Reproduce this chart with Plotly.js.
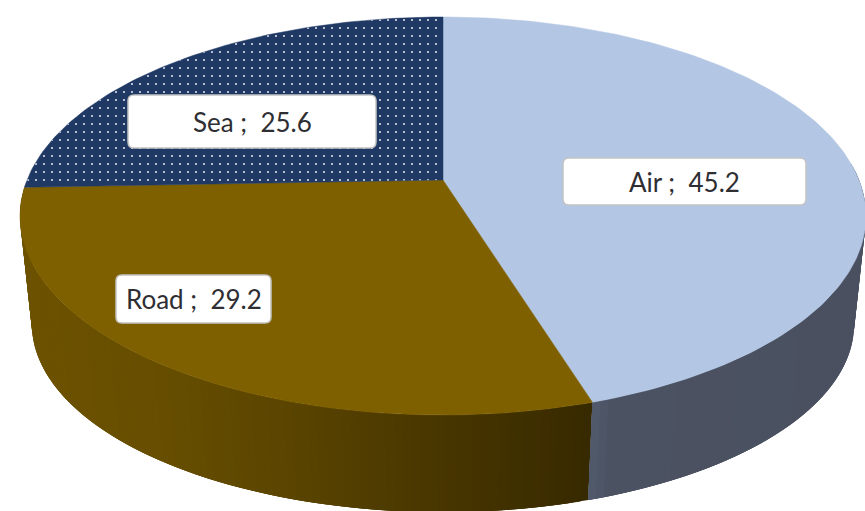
<!DOCTYPE html>
<html>
<head>
<meta charset="utf-8">
<script src="https://cdn.plot.ly/plotly-3.0.1.min.js"></script>
<style>html,body{margin:0;padding:0;background:#fff}#chart{width:865px;height:511px}</style>
</head>
<body>
<div id="chart"></div>
<script>
// Transport mode shares, clockwise from twelve o'clock
const modes = ['Air', 'Road', 'Sea'];
const shares = [45.2, 29.2, 25.6];
const topColors = ['#B3C6E4', '#7F6000', '#1F3864'];

// Rounded label plates: [left, top, right, bottom]
const plates = [[563, 158, 806, 205], [116, 275, 271, 323], [128, 95, 376, 148]];

// Side wall shading stops: [x, r, g, b]
const wallStops = {
  Air: [[590, 82, 92, 110], [612, 75, 82, 98], [865, 74, 80, 96]],
  Road: [[20, 108, 82, 0], [150, 103, 78, 0], [290, 90, 68, 0], [440, 72, 54, 0], [590, 56, 42, 0]]
};

// Perspective disc: the far edge recedes through the divisor w
const cx = 443, cy = 180, K = 0.181, R = 416, S = 192.5;
const rad = d => d * Math.PI / 180;
const topPt = d => {
  const w = 1 + K * Math.cos(rad(d));
  return [cx + R * Math.sin(rad(d)) / w, cy - S * Math.cos(rad(d)) / w];
};
const basePt = d => {
  const w = 1 + K * Math.cos(rad(d));
  return [cx + 0.972 * R * Math.sin(rad(d)) / w, 290 - 182 * Math.cos(rad(d)) / w];
};
const wallColor = (stops, x) => {
  if (x <= stops[0][0]) return `rgb(${stops[0].slice(1).join(',')})`;
  for (let i = 1; i < stops.length; i++) {
    if (x <= stops[i][0]) {
      const a = stops[i - 1], b = stops[i], t = (x - a[0]) / (b[0] - a[0]);
      return `rgb(${[1, 2, 3].map(j => Math.round(a[j] + (b[j] - a[j]) * t)).join(',')})`;
    }
  }
  return `rgb(${stops[stops.length - 1].slice(1).join(',')})`;
};

const total = shares.reduce((a, b) => a + b, 0);
const edges = [0];
shares.forEach(v => edges.push(edges[edges.length - 1] + v / total * 360));

const traces = [];
const poly = (pts, extra) => traces.push(Object.assign({
  type: 'scatter', mode: 'lines', fill: 'toself', hoverinfo: 'skip', showlegend: false,
  x: pts.map(p => p[0]), y: pts.map(p => p[1])
}, extra));

// Visible wall: the near part of the Air and Road slices. Each facet reaches
// two steps past its own end and the next one paints on top, hiding the seams.
const wallSpan = { Road: [edges[1], edges[2]], Air: [85, edges[1]] };
Object.keys(wallSpan).forEach(name => {
  const [a, b] = wallSpan[name];
  const n = Math.ceil(b - a);
  const at = i => a + (b - a) * Math.min(i, n) / n;
  for (let i = 0; i < n; i++) {
    const d0 = at(i), d1 = at(i + 1), d2 = at(i + 3);
    const col = wallColor(wallStops[name], (topPt(d0)[0] + topPt(d1)[0]) / 2);
    const pts = [];
    for (let k = 0; k <= 3; k++) pts.push(topPt(d0 + (d2 - d0) * k / 3));
    for (let k = 3; k >= 0; k--) pts.push(basePt(d0 + (d2 - d0) * k / 3));
    pts.push(pts[0]);
    poly(pts, { fillcolor: col, line: { width: 0 } });
  }
});

// Top faces of the slices
modes.forEach((m, i) => {
  const pts = [[cx, cy]];
  const n = Math.ceil(edges[i + 1] - edges[i]);
  for (let j = 0; j <= n; j++) pts.push(topPt(edges[i] + (edges[i + 1] - edges[i]) * j / n));
  pts.push([cx, cy]);
  const extra = { fillcolor: topColors[i], line: { color: topColors[i], width: 0.5 }, name: m };
  if (m === 'Sea') {
    extra.fillpattern = { shape: '.', bgcolor: topColors[i], fgcolor: '#d5dcea', size: 8, solidity: 0.06 };
  }
  poly(pts, extra);
});

// Label plates as rounded rectangles, with text placed on their centres
const r = 6;
const shapes = plates.map(([l, t, ri, b]) => ({
  type: 'path', xref: 'x', yref: 'y', layer: 'above',
  path: `M${l + r},${t}H${ri - r}Q${ri},${t} ${ri},${t + r}V${b - r}Q${ri},${b} ${ri - r},${b}H${l + r}Q${l},${b} ${l},${b - r}V${t + r}Q${l},${t} ${l + r},${t}Z`,
  fillcolor: '#ffffff', line: { color: '#C4C4C4', width: 1.5 }
}));
const annotations = modes.map((m, i) => ({
  x: (plates[i][0] + plates[i][2]) / 2, y: (plates[i][1] + plates[i][3]) / 2,
  xref: 'x', yref: 'y', showarrow: false, xanchor: 'center', yanchor: 'middle',
  text: `${m} ;  ${shares[i].toFixed(1)}`,
  font: { family: 'Lato, sans-serif', size: 26, color: '#2E2E33' }
}));

Plotly.newPlot('chart', traces, {
  width: 865, height: 511, margin: { l: 0, r: 0, t: 0, b: 0 },
  paper_bgcolor: '#ffffff', plot_bgcolor: '#ffffff',
  xaxis: { range: [0, 865], visible: false, fixedrange: true },
  yaxis: { range: [511, 0], visible: false, fixedrange: true },
  shapes, annotations, showlegend: false
}, { displayModeBar: false, staticPlot: true });
</script>
</body>
</html>
